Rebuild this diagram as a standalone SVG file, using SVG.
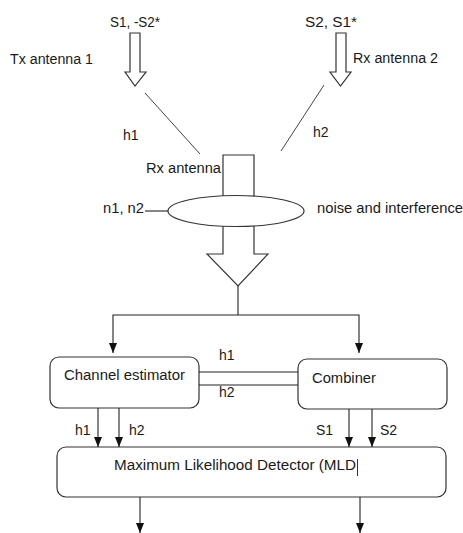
<svg xmlns="http://www.w3.org/2000/svg" width="463" height="533" viewBox="0 0 463 533">
<defs>
<marker id="ah" markerWidth="10" markerHeight="8" refX="10" refY="4" orient="auto-start-reverse" markerUnits="userSpaceOnUse" viewBox="0 0 10 8">
<path d="M0,0 L10,4 L0,8 Z" fill="#111"/>
</marker>
</defs>
<style>
text{font-family:"Liberation Sans",Arial,sans-serif;font-size:14px;fill:#1a1a1a}
.s{fill:#fff;stroke:#333;stroke-width:1.2}
.l{fill:none;stroke:#222;stroke-width:1.1}
.g{fill:none;stroke:#444;stroke-width:1}
</style>
<rect width="463" height="533" fill="#fff"/>
<g id="tx1">
<text x="110" y="27" textLength="50" lengthAdjust="spacingAndGlyphs">S1, -S2*</text>
<text x="10" y="64" textLength="83" lengthAdjust="spacingAndGlyphs">Tx antenna 1</text>
<path class="s" d="M130,33 H140 V72 H146 L135,86 L125,72 H130 Z"/>
</g>
<g id="tx2">
<text x="305" y="27" textLength="52" lengthAdjust="spacingAndGlyphs">S2, S1*</text>
<text x="353" y="63" textLength="85" lengthAdjust="spacingAndGlyphs">Rx antenna 2</text>
<path class="s" d="M336,33 H346 V72 H351 L340.5,86 L330,72 H336 Z"/>
</g>
<g id="rx">
<text x="146" y="173" textLength="75" lengthAdjust="spacingAndGlyphs">Rx antenna</text>
<path class="s" d="M223,227 V155 H254 V227"/>
<path class="s" d="M223,227 V254 H207 L238,286 L268,254 H254 V227"/>
<ellipse class="s" cx="236" cy="211" rx="68" ry="15.5"/>
<text x="103" y="213" textLength="41" lengthAdjust="spacingAndGlyphs">n1, n2</text>
<text x="317" y="213" textLength="146" lengthAdjust="spacingAndGlyphs">noise and interference</text>
</g>
<g id="channel-estimator">
<rect class="s" x="50" y="357" width="149" height="51" rx="9"/>
<text x="64" y="380" textLength="121" lengthAdjust="spacingAndGlyphs">Channel estimator</text>
</g>
<g id="combiner">
<rect class="s" x="298" y="359" width="149" height="50" rx="9"/>
<text x="312" y="383" textLength="64" lengthAdjust="spacingAndGlyphs">Combiner</text>
</g>
<g id="mld">
<rect class="s" x="57" y="447" width="389" height="50" rx="9"/>
<text x="114" y="470" textLength="242" lengthAdjust="spacingAndGlyphs">Maximum Likelihood Detector (MLD</text>
<line x1="357.5" y1="459" x2="357.5" y2="476" stroke="#333" stroke-width="1"/>
</g>
<g id="connectors">
<line class="g" x1="145" y1="93" x2="200" y2="154"/>
<line class="g" x1="324" y1="85" x2="281" y2="151"/>
<text x="123" y="140">h1</text>
<text x="313" y="137">h2</text>
<line class="l" x1="145" y1="211" x2="168" y2="211"/>
<path class="l" d="M238,286 V315"/>
<path class="l" d="M113,353 V315 H359 V353" marker-start="url(#ah)" marker-end="url(#ah)"/>
<line class="l" x1="199" y1="372" x2="298" y2="372"/>
<line class="l" x1="199" y1="385" x2="298" y2="385"/>
<text x="219" y="360">h1</text>
<text x="219" y="397">h2</text>
<line class="l" x1="98" y1="408" x2="98" y2="447" marker-end="url(#ah)"/>
<line class="l" x1="119" y1="408" x2="119" y2="447" marker-end="url(#ah)"/>
<line class="l" x1="349" y1="409" x2="349" y2="447" marker-end="url(#ah)"/>
<line class="l" x1="372" y1="409" x2="372" y2="447" marker-end="url(#ah)"/>
<text x="75" y="435">h1</text>
<text x="129" y="435">h2</text>
<text x="316" y="435">S1</text>
<text x="380" y="435">S2</text>
<line class="l" x1="140" y1="497" x2="140" y2="533" marker-end="url(#ah)"/>
<line class="l" x1="360" y1="497" x2="360" y2="533" marker-end="url(#ah)"/>
</g>
</svg>
